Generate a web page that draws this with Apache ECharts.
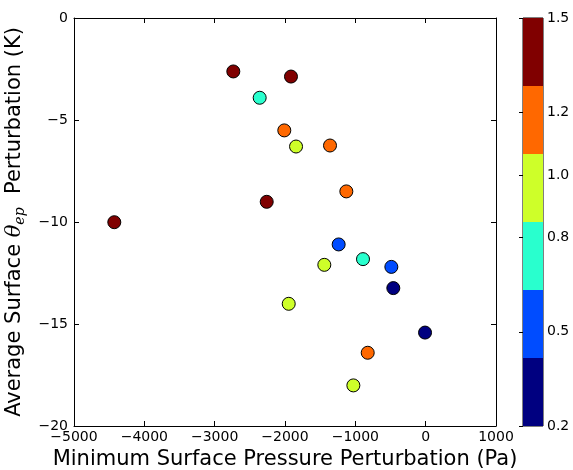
<!DOCTYPE html>
<html><head><meta charset="utf-8">
<script src="https://cdn.jsdelivr.net/npm/echarts@6/dist/echarts.min.js"></script>
<style>html,body{margin:0;padding:0;background:#fff}#c{width:573px;height:470px}</style>
</head><body><div id="c"></div>
<script>
// Data
const pressure = [-2735, -1915, -2360, -2010, -1843, -2260, -4427, -1360, -1128, -1237, -891, -1441, -488, -460, -1947, -9, -824, -1028];
const theta    = [-2.62, -2.87, -3.91, -5.51, -6.30, -9.01, -10.01, -6.25, -8.50, -11.10, -11.82, -12.10, -12.20, -13.24, -14.01, -15.42, -16.41, -18.01];
const colorVal = [1.40, 1.40, 0.75, 1.20, 0.95, 1.40, 1.40, 1.20, 1.20, 0.50, 0.75, 0.95, 0.50, 0.30, 0.95, 0.30, 1.20, 0.95];
const cbarTicks = [0.2, 0.5, 0.8, 1.0, 1.2, 1.5];
const cbarBounds = [0.2, 0.4167, 0.6333, 0.85, 1.0667, 1.2833, 1.5];
const cbarColors = ['#000080', '#004cff', '#29ffce', '#ceff29', '#ff6800', '#800000'];

const font = 'DejaVu Sans';
const minus = v => String(v).replace('-', '\u2212');
const pts = pressure.map((p, i) => [p, theta[i], colorVal[i]]);
const pieces = cbarColors.map((c, i) => ({gte: cbarBounds[i], lt: cbarBounds[i + 1] + (i === 5 ? 0.001 : 0), color: c}));
const bands = cbarColors.map((c, i) => [{yAxis: cbarBounds[i], itemStyle: {color: c}}, {yAxis: cbarBounds[i + 1]}]);

const chart = echarts.init(document.getElementById('c'), null, {renderer: 'canvas'});
const axLine = {show: true, onZero: false, lineStyle: {color: '#000', width: 1}};
const tick = {inside: true, length: 5, lineStyle: {color: '#000'}};
chart.setOption({
  animation: false,
  backgroundColor: '#fff',
  grid: [
    {left: 74, right: 77, top: 18, bottom: 44, show: false, containLabel: false, outerBoundsMode: 'none'},
    {left: 523, width: 20, top: 18, height: 408, show: true, borderColor: '#000', borderWidth: 1, containLabel: false, outerBoundsMode: 'none'}
  ],
  xAxis: [
    {gridIndex: 0, type: 'value', min: -5000, max: 1000, interval: 1000, position: 'bottom',
     axisLine: axLine, axisTick: tick, splitLine: {show: false},
     axisLabel: {fontFamily: font, fontSize: 14, color: '#000', margin: 4, formatter: minus},
     name: 'Minimum Surface Pressure Perturbation (Pa)', nameLocation: 'middle', nameGap: 23,
     nameTextStyle: {fontFamily: font, fontSize: 21, color: '#000', verticalAlign: 'top'}},
    {gridIndex: 0, type: 'value', min: -5000, max: 1000, interval: 1000, position: 'top',
     axisLine: axLine, axisTick: tick, splitLine: {show: false}, axisLabel: {show: false}},
    {gridIndex: 1, type: 'value', min: 0, max: 1, show: false}
  ],
  yAxis: [
    {gridIndex: 0, type: 'value', min: -20, max: 0, interval: 5, position: 'left',
     axisLine: axLine, axisTick: tick, splitLine: {show: false},
     axisLabel: {fontFamily: font, fontSize: 14, color: '#000', margin: 6, formatter: minus},
     name: '{n|Average Surface }{th|θ}{sub|ep}{n|  Perturbation (K)}', nameLocation: 'middle', nameGap: 45, nameRotate: 90,
     nameTextStyle: {fontFamily: font, fontSize: 21, color: '#000',
       rich: {
         n: {fontFamily: font, fontSize: 21, color: '#000', lineHeight: 26},
         th: {fontFamily: 'DejaVu Serif', fontStyle: 'italic', fontSize: 21, color: '#000', lineHeight: 26},
         sub: {fontFamily: 'DejaVu Serif', fontStyle: 'italic', fontSize: 14, color: '#000', lineHeight: 15, verticalAlign: 'bottom'}
       }}},
    {gridIndex: 0, type: 'value', min: -20, max: 0, interval: 5, position: 'right',
     axisLine: axLine, axisTick: tick, splitLine: {show: false}, axisLabel: {show: false}},
    {gridIndex: 1, type: 'value', min: 0.2, max: 1.5, position: 'right',
     axisLine: {show: false}, splitLine: {show: false},
     axisTick: {show: true, inside: true, length: 4, lineStyle: {color: '#000'}, customValues: cbarTicks},
     axisLabel: {fontFamily: font, fontSize: 14, color: '#000', margin: 4, customValues: cbarTicks,
       formatter: v => v.toFixed(1)}}
  ],
  visualMap: {show: false, type: 'piecewise', dimension: 2, seriesIndex: 0, pieces: pieces},
  series: [
    {type: 'scatter', xAxisIndex: 0, yAxisIndex: 0, data: pts, symbolSize: 13,
     itemStyle: {borderColor: '#000', borderWidth: 1, opacity: 1}, z: 5},
    {type: 'scatter', xAxisIndex: 2, yAxisIndex: 2, data: [], silent: true,
     markArea: {silent: true, data: bands}}
  ]
});
</script></body></html>
